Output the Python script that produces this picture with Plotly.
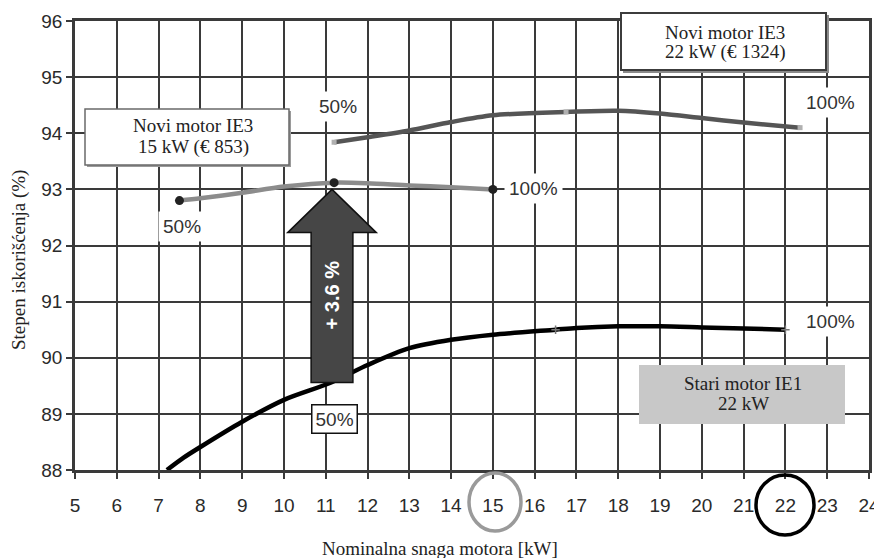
import plotly.graph_objects as go

# ---------------- data ----------------
x_ie1 = [7.2, 7.6, 8, 9, 10, 11.1, 12, 13, 14, 15, 16.5, 17, 18, 19, 20, 21, 22]
y_ie1 = [88.0, 88.22, 88.41, 88.86, 89.25, 89.55, 89.87, 90.17, 90.32, 90.41, 90.5, 90.53, 90.56, 90.56, 90.54, 90.52, 90.5]

x_ie3_22 = [11.2, 12, 13, 14, 15, 16.75, 18, 19, 20, 21, 22.35]
y_ie3_22 = [93.84, 93.93, 94.05, 94.2, 94.32, 94.38, 94.4, 94.35, 94.27, 94.19, 94.1]
x_ie3_22_pts = [11.2, 16.75, 22.35]
y_ie3_22_pts = [93.84, 94.38, 94.1]

x_ie3_15 = [7.5, 8, 9, 10, 11.2, 12, 13, 14, 15]
y_ie3_15 = [92.8, 92.84, 92.94, 93.05, 93.12, 93.11, 93.07, 93.04, 93.0]
x_ie3_15_pts = [7.5, 11.2, 15]
y_ie3_15_pts = [92.8, 93.12, 93.0]

x_ie1_pts = [16.5, 22]
y_ie1_pts = [90.5, 90.5]

arrow_x = 11.15
arrow_from = 89.56
arrow_to = 93.0
arrow_label = "+ 3.6 %"

x_ticks = list(range(5, 25))
y_ticks = list(range(88, 97))

# load labels: (text, x, y)
load_labels = [
    ("50%", 7.56, 92.33),
    ("50%", 11.29, 94.48),
    ("100%", 15.96, 93.02),
    ("100%", 23.09, 94.54),
    ("100%", 23.09, 90.65),
]
boxed_label = ("50%", 11.22, 88.91)

box_lines = [["Novi motor IE3", "15 kW (€ 853)"],
             ["Novi motor IE3", "22 kW (€ 1324)"],
             ["Stari motor IE1", "22 kW"]]

# ---------------- layout helpers ----------------
W, H = 882, 558
OFF = 8                       # page body offset
SL, ST, SR, SB = 75, 21, 869, 470   # target plot area on screen
PW, PH = SR - SL, SB - ST


def px(xp):
    return (xp - SL) / PW


def py(yp):
    return (SB - yp) / PH


SANS = "Liberation Sans, Arial, sans-serif"
SERIF = "Liberation Serif, Times New Roman, serif"
GRID = "#3a3a3a"

fig = go.Figure()

fig.add_trace(go.Scatter(x=x_ie3_15, y=y_ie3_15, mode="lines",
                         line=dict(color="#8c8c8c", width=4.5, shape="spline", smoothing=0.8),
                         hoverinfo="skip", showlegend=False))
fig.add_trace(go.Scatter(x=x_ie3_15_pts, y=y_ie3_15_pts, mode="markers",
                         marker=dict(color="#222222", size=9),
                         hoverinfo="skip", showlegend=False))
fig.add_trace(go.Scatter(x=x_ie3_22, y=y_ie3_22, mode="lines",
                         line=dict(color="#555555", width=4.5, shape="spline", smoothing=0.8),
                         hoverinfo="skip", showlegend=False))
fig.add_trace(go.Scatter(x=x_ie3_22_pts, y=y_ie3_22_pts, mode="markers",
                         marker=dict(color="#b0b0b0", size=5, symbol="square"),
                         hoverinfo="skip", showlegend=False))
fig.add_trace(go.Scatter(x=x_ie1, y=y_ie1, mode="lines",
                         line=dict(color="#000000", width=4.5, shape="spline", smoothing=0.8),
                         hoverinfo="skip", showlegend=False))
fig.add_trace(go.Scatter(x=x_ie1_pts, y=y_ie1_pts, mode="markers",
                         marker=dict(color="#777777", size=6, symbol="cross-thin",
                                     line=dict(color="#777777", width=1.5)),
                         hoverinfo="skip", showlegend=False))

shapes = []
# arrow (data coords)
sw, hw, hh = 0.5, 1.06, 0.77
hb = arrow_to - hh
path = (f"M {arrow_x - sw},{arrow_from} L {arrow_x - sw},{hb} L {arrow_x - hw},{hb} "
        f"L {arrow_x},{arrow_to} L {arrow_x + hw},{hb} L {arrow_x + sw},{hb} "
        f"L {arrow_x + sw},{arrow_from} Z")
shapes.append(dict(type="path", path=path, xref="x", yref="y",
                   fillcolor="#464646", line=dict(color="#111111", width=1.5), layer="above"))


def rect(x0, y0, x1, y1, fill, line_color=None, lw=0):
    return dict(type="rect", xref="paper", yref="paper",
                x0=px(x0), x1=px(x1), y0=py(y1), y1=py(y0),
                fillcolor=fill, line=dict(color=line_color or fill, width=lw), layer="above")


# boxes
shapes.append(rect(87, 111, 291, 167, "#9a9a9a"))
shapes.append(rect(85, 109, 289, 165, "white", "#6a6a6a", 1.5))
shapes.append(rect(623, 15, 829, 73, "#8a8a8a"))
shapes.append(rect(621, 13, 826, 70, "white", "#3c3c3c", 2))
shapes.append(rect(639, 365, 845, 424, "#c8c8c8"))

# circles around tick labels
shapes.append(dict(type="circle", xref="paper", yref="paper",
                   x0=px(495 - 26), x1=px(495 + 26), y0=py(502 + 29), y1=py(502 - 29),
                   line=dict(color="#9a9a9a", width=3.5)))
shapes.append(dict(type="circle", xref="paper", yref="paper",
                   x0=px(785 - 29), x1=px(785 + 29), y0=py(505 + 30), y1=py(505 - 30),
                   line=dict(color="#000000", width=3.5)))

annotations = []
for txt, xv, yv in load_labels:
    annotations.append(dict(x=xv, y=yv, xref="x", yref="y", text=txt, showarrow=False,
                            xanchor="center", yanchor="middle",
                            font=dict(family=SANS, size=19, color="#333333"),
                            bgcolor="white", borderpad=4))
annotations.append(dict(x=boxed_label[1], y=boxed_label[2], xref="x", yref="y",
                        text=boxed_label[0], showarrow=False,
                        xanchor="center", yanchor="middle",
                        font=dict(family=SANS, size=19, color="#333333"),
                        bgcolor="white", bordercolor="#111111", borderwidth=1.5, borderpad=3))
annotations.append(dict(x=arrow_x, y=91.11, xref="x", yref="y", text=arrow_label,
                        showarrow=False, textangle=-90, xanchor="center", yanchor="middle",
                        font=dict(family=SANS, size=20, color="white", weight="bold")))

line_pos = [((193, 125), (193, 147)), ((725, 32), (725, 52)), ((743, 383), (743, 403))]
for lines, poss in zip(box_lines, line_pos):
    for txt, (cx, cy) in zip(lines, poss):
        annotations.append(dict(x=px(cx), y=py(cy), xref="paper", yref="paper", text=txt,
                                showarrow=False, xanchor="center", yanchor="middle",
                                font=dict(family=SERIF, size=19, color="#222222")))

annotations.append(dict(x=px(440), y=py(548), xref="paper", yref="paper",
                        text="Nominalna snaga motora [kW]", showarrow=False,
                        xanchor="center", yanchor="middle",
                        font=dict(family=SERIF, size=19, color="#222222")))
annotations.append(dict(x=px(19), y=py(260), xref="paper", yref="paper",
                        text="Stepen iskorišćenja (%)", showarrow=False, textangle=-90,
                        xanchor="center", yanchor="middle",
                        font=dict(family=SERIF, size=19, color="#222222")))

fig.update_layout(
    width=W, height=H,
    margin=dict(l=SL - OFF, r=W - (SR - OFF), t=ST - OFF, b=H - (SB - OFF)),
    paper_bgcolor="white", plot_bgcolor="white",
    shapes=shapes, annotations=annotations,
    xaxis=dict(range=[5, 24], tickvals=x_ticks, ticktext=[str(v) for v in x_ticks],
               showgrid=True, gridcolor=GRID, gridwidth=2,
               showline=True, linecolor=GRID, linewidth=2.5, mirror=True,
               ticks="outside", ticklen=6, tickcolor=GRID, tickwidth=2,
               ticklabelstandoff=10,
               tickfont=dict(family=SANS, size=19, color="#2a2a2a"), zeroline=False,
               fixedrange=True, automargin=False),
    yaxis=dict(range=[88, 96], tickvals=y_ticks, ticktext=[str(v) for v in y_ticks],
               showgrid=True, gridcolor=GRID, gridwidth=2,
               showline=True, linecolor=GRID, linewidth=2.5, mirror=True,
               ticks="outside", ticklen=6, tickcolor=GRID, tickwidth=2,
               tickfont=dict(family=SANS, size=19, color="#2a2a2a"), zeroline=False,
               fixedrange=True, automargin=False),
)

fig.write_html("out.html")
